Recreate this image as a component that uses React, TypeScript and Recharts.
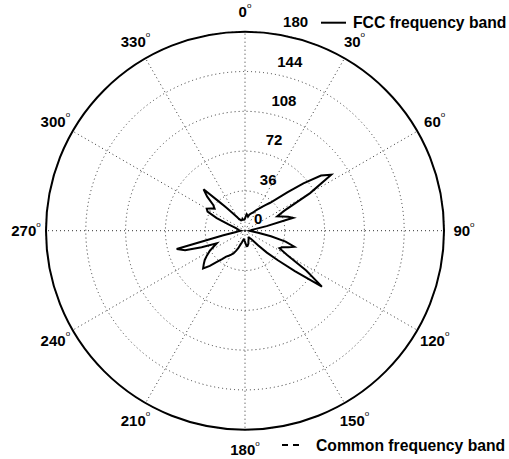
import React from "react"
import { PolarAngleAxis, PolarGrid, PolarRadiusAxis, Radar, RadarChart } from "recharts"

// angle in degrees, clockwise from top
const angles = [
  0, 3, 6, 9, 12, 15, 18, 21, 24, 27, 30, 33, 36, 39, 42, 45, 48, 51, 54, 57,
  60, 63, 66, 69, 72, 75, 78, 81, 84, 87, 90, 93, 96, 99, 102, 105, 108, 111, 114, 117,
  120, 123, 126, 129, 132, 135, 138, 141, 144, 147, 150, 153, 156, 159, 162, 165, 168, 171, 174, 177,
  180, 183, 186, 189, 192, 195, 198, 201, 204, 207, 210, 213, 216, 219, 222, 225, 228, 231, 234, 237,
  240, 243, 246, 249, 252, 255, 258, 261, 264, 267, 270, 273, 276, 279, 282, 285, 288, 291, 294, 297,
  300, 303, 306, 309, 312, 315, 318, 321, 324, 327, 330, 333, 336, 339, 342, 345, 348, 351, 354, 357,
]

const fcc = [
  11, 13, 15, 14, 13, 15, 16, 17, 18, 20, 22, 24, 27, 30, 34, 41, 52, 68, 85, 93,
  68, 40, 32, 36, 41, 45, 20, 9, 6, 5, 4, 5, 7, 12, 24, 38, 47, 42, 37, 35,
  44, 66, 86, 58, 40, 28, 18, 12, 9, 8, 7, 7, 8, 9, 10, 12, 13, 14, 14, 12,
  10, 9, 8, 8, 9, 11, 13, 17, 20, 23, 25, 27, 29, 33, 38, 45, 51, 48, 45, 41,
  37, 32, 28, 42, 57, 64, 20, 9, 6, 5, 4, 5, 6, 6, 7, 8, 10, 16, 28, 38,
  40, 37, 34, 37, 46, 53, 36, 27, 21, 17, 14, 12, 11, 10, 10, 10, 11, 10, 10, 10,
]

const radiusTicks = [0, 36, 72, 108, 144, 180]
const spokeAngles = [0, 30, 60, 90, 120, 150, 180, 210, 240, 270, 300, 330]

const data = angles.map((a, i) => ({ angle: a, fcc: fcc[i] }))

const FONT = "'Liberation Sans', Arial, sans-serif"
const CX = 245
const CY = 230.7
const R = 199

function AngleTick(props: any) {
  const { x, y, payload } = props
  if (payload.value % 30 !== 0) return <g />
  return (
    <text x={x} y={y} textAnchor="middle" dominantBaseline="central" fontFamily={FONT} fontSize={15} fontWeight="bold" fill="#000">
      {payload.value}
      <tspan fontSize={8} fontWeight="normal" dy={-7}>
        o
      </tspan>
    </text>
  )
}

function RadiusTick(props: any) {
  const { x, y, payload } = props
  return (
    <text x={x + 9} y={y - 12} textAnchor="start" dominantBaseline="central" fontFamily={FONT} fontSize={15} fontWeight="bold" fill="#000">
      {payload.value}
    </text>
  )
}

export default function App() {
  return (
    <div style={{ position: "absolute", left: 0, top: 0, width: 509, height: 459, background: "#fff" }}>
      <RadarChart
        width={509}
        height={459}
        data={data}
        cx={CX}
        cy={CY}
        innerRadius={0}
        outerRadius={R}
        startAngle={90}
        endAngle={-270}
        margin={{ top: 0, right: 0, bottom: 0, left: 0 }}
      >
        <PolarGrid
          gridType="circle"
          polarAngles={spokeAngles.map((a) => 90 - a)}
          stroke="#333"
          strokeWidth={1}
          strokeDasharray="1 3"
        />
        <PolarGrid gridType="circle" polarAngles={[]} polarRadius={[R]} stroke="#000" strokeWidth={2} radialLines={false} />
        <PolarAngleAxis dataKey="angle" tick={<AngleTick />} tickLine={false} axisLine={false} tickSize={20} />
        <PolarRadiusAxis
          domain={[0, 180]}
          ticks={radiusTicks}
          angle={81.6}
          axisLine={false}
          tick={<RadiusTick />}
        />
        <Radar dataKey="fcc" stroke="#000" strokeWidth={2} fill="none" fillOpacity={0} dot={false} isAnimationActive={false} />
      </RadarChart>
      <svg width={509} height={459} style={{ position: "absolute", left: 0, top: 0, pointerEvents: "none" }}>
        <line x1={321} y1={22.7} x2={346} y2={22.7} stroke="#000" strokeWidth={2} />
        <text x={353} y={22.7} dominantBaseline="central" fontFamily={FONT} fontSize={15.7} fontWeight="bold">
          FCC frequency band
        </text>
        <line x1={282} y1={445} x2={299} y2={445} stroke="#000" strokeWidth={2} strokeDasharray="6 5" />
        <text x={316} y={445} dominantBaseline="central" fontFamily={FONT} fontSize={15.7} fontWeight="bold">
          Common frequency band
        </text>
      </svg>
    </div>
  )
}
